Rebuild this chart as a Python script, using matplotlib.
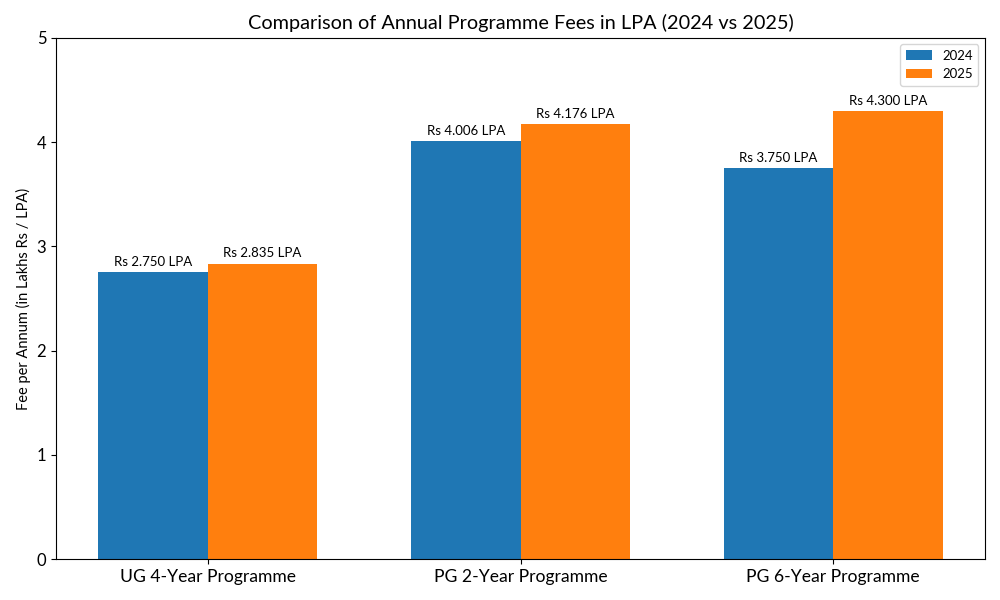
import numpy as np
import matplotlib
matplotlib.use('Agg')
import matplotlib.pyplot as plt

plt.rcParams['font.family'] = ['Lato', 'DejaVu Sans']

programmes = ['UG 4-Year Programme', 'PG 2-Year Programme', 'PG 6-Year Programme']
fees_2024 = [2.750, 4.006, 3.750]
fees_2025 = [2.835, 4.176, 4.300]

x = np.arange(len(programmes))
width = 0.35

fig, ax = plt.subplots(figsize=(10, 6), dpi=100)
b1 = ax.bar(x - width / 2, fees_2024, width, label='2024', color='#1f77b4')
b2 = ax.bar(x + width / 2, fees_2025, width, label='2025', color='#ff7f0e')

for bars in (b1, b2):
    for bar in bars:
        h = bar.get_height()
        ax.annotate(f'Rs {h:.3f} LPA', xy=(bar.get_x() + bar.get_width() / 2, h),
                    xytext=(0, 3), textcoords='offset points',
                    ha='center', va='bottom', fontsize=9.5)

ax.set_title('Comparison of Annual Programme Fees in LPA (2024 vs 2025)', fontsize=14.3)
ax.set_ylabel('Fee per Annum (in Lakhs Rs / LPA)', fontsize=10.5)
ax.set_xticks(x)
ax.set_xticklabels(programmes, fontsize=12.6)
ax.tick_params(axis='y', labelsize=12)
ax.set_ylim(0, 5)
ax.legend(fontsize=9.5)

fig.subplots_adjust(left=0.056, right=0.985, top=0.937, bottom=0.068)
fig.savefig('out.png')
